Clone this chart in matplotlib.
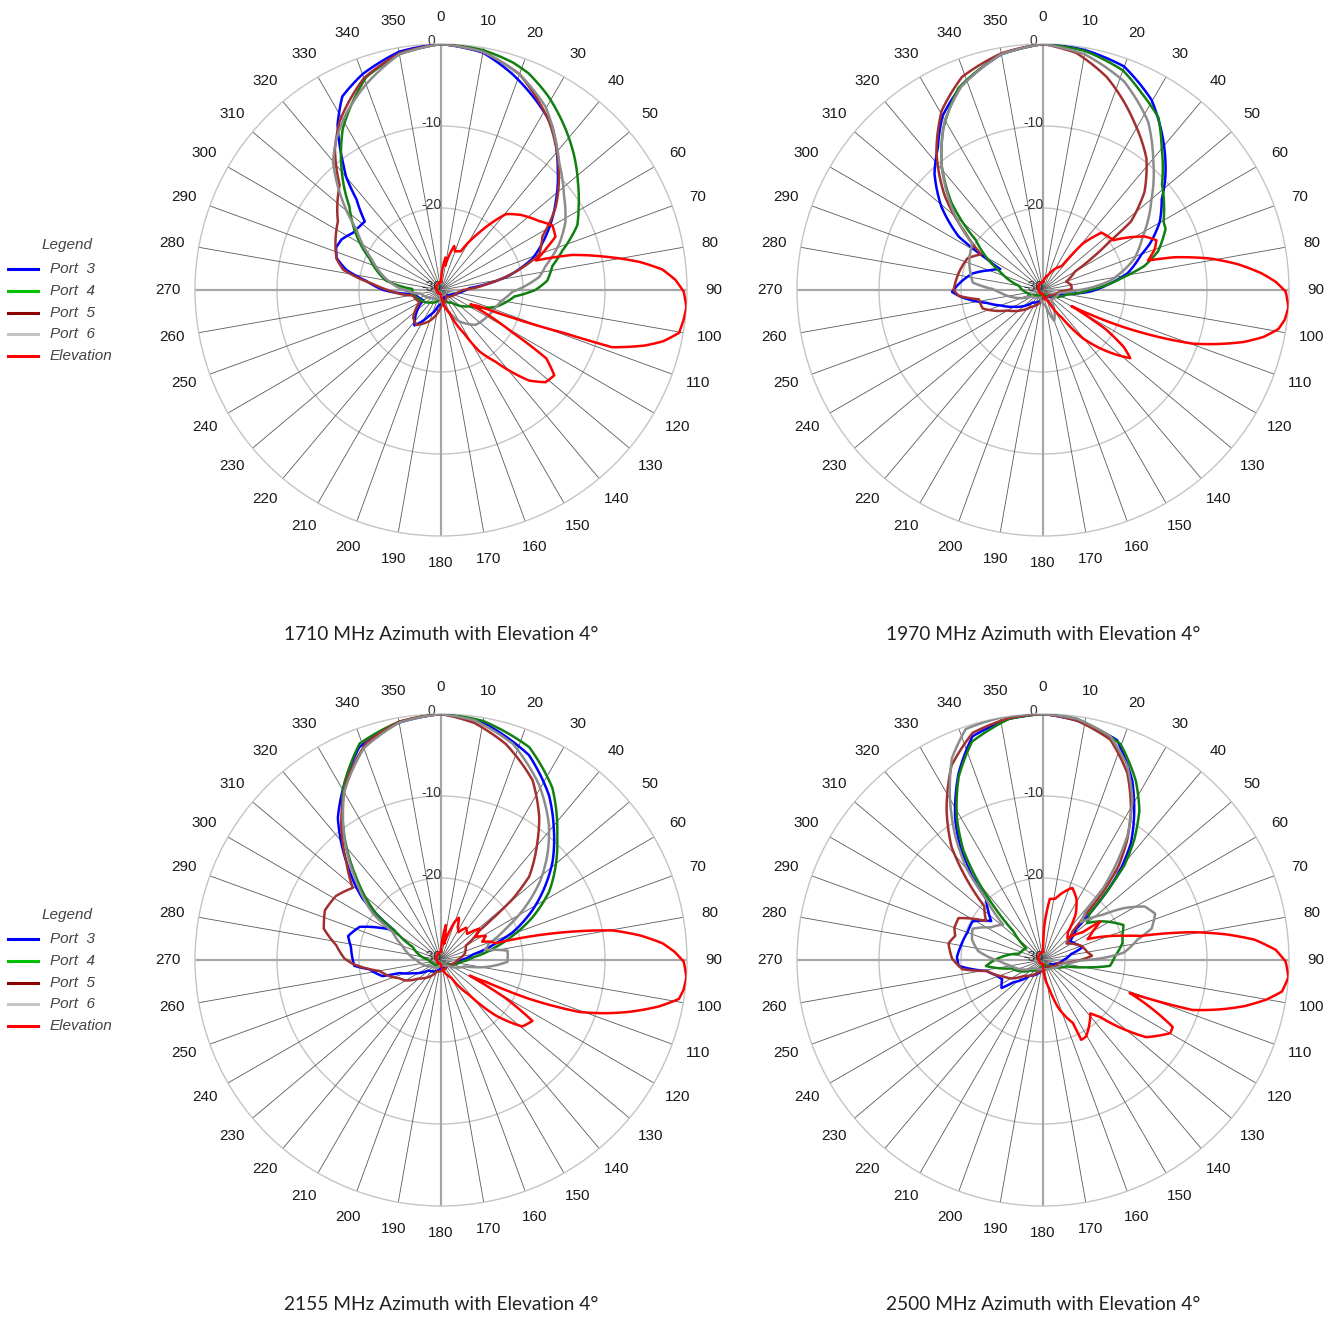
import numpy as np
import matplotlib.pyplot as plt
from matplotlib.lines import Line2D

plt.rcParams['font.family'] = ['Liberation Sans', 'DejaVu Sans']

# ---- data (angle in degrees, level in dB) ----
freqs = ['1710', '1970', '2155', '2500']
series_names = ['Port  3', 'Port  4', 'Port  5', 'Port  6', 'Elevation']

# 1710 MHz
p1710_port3_ang = [0, 10, 18, 34, 44, 52, 63, 71, 78, 86, 95, 110, 130, 160, 190, 205, 217, 228, 240, 255, 263, 270, 277, 282, 287, 292, 297, 303, 308, 312, 317, 320, 322, 328, 333, 340, 350]
p1710_port3_db = [0, -0.6, -2.2, -5.8, -9.5, -12.2, -15.7, -18.2, -21.5, -26.5, -27.5, -28.5, -29, -29, -28, -26.5, -24.6, -26, -27.5, -27, -26.1, -23, -20.8, -18.2, -16.7, -16.2, -16.4, -17.2, -17.4, -17.5, -14.9, -12, -10.7, -6.2, -3.5, -2.0, -0.5]
p1710_port4_ang = [0, 10, 17.5, 22, 29, 35.8, 44.6, 52, 58.9, 64.6, 72.2, 77.8, 85, 90, 95, 107, 120, 140, 180, 220, 250, 262, 272, 279.7, 293.7, 312.3, 321.2, 328.6, 340.6, 350]
p1710_port4_db = [0, -0.3, -0.9, -1.5, -3, -4.7, -6.9, -8.8, -10.4, -11.6, -14.5, -16.1, -17, -18.5, -21, -23, -26, -28, -29, -28, -27, -26.5, -26.5, -23.2, -20.5, -14.9, -10.6, -7.0, -2.5, -0.8]
p1710_port5_ang = [0, 10, 20, 32.7, 40, 46.3, 54, 62.1, 70.3, 76.9, 82, 90, 100, 140, 180, 200, 215, 225, 240, 259, 270, 275, 281.8, 286.7, 295, 303.6, 316, 323, 329, 340, 350]
p1710_port5_db = [0, -0.5, -2, -5.6, -8, -10.1, -12.7, -16, -17.3, -21, -24, -27.4, -28, -29, -28, -26, -24.8, -25.2, -27, -26.5, -23.5, -21.7, -17.8, -16.7, -15.8, -14.9, -12.2, -8.5, -6, -2.5, -0.7]
p1710_port6_ang = [0, 10, 20, 29.8, 36, 42.8, 52, 61.3, 68.6, 77, 82.4, 91.5, 100, 107, 120, 135, 150, 165, 190, 230, 260, 276.7, 294.3, 305.7, 314, 319.8, 325, 332, 340, 350]
p1710_port6_db = [0, -0.5, -2, -4.3, -6.5, -8.8, -11, -12.7, -14.5, -16.9, -17.9, -21.3, -22.5, -23, -23.5, -24, -25.6, -28, -29, -28.5, -27.5, -24.1, -20.7, -17.3, -12.8, -9.6, -7.7, -5.5, -3.3, -0.8]
p1710_elev_ang = [0, 5, 8, 10, 13.4, 16.7, 20, 27, 33.6, 40.6, 47, 54.8, 59.9, 65, 68, 72.7, 75, 78.6, 82, 84.7, 87.5, 90.4, 94, 97, 100.2, 103, 105.2, 108.5, 109.3, 111.2, 113, 116, 120.7, 123, 127, 131.4, 135.8, 142.7, 148, 152, 160, 180, 270]
p1710_elev_db = [-29, -27, -26, -27, -25.6, -24.4, -25, -24.7, -21.6, -17.8, -16.6, -15.4, -14.3, -14.6, -16, -17.9, -13.5, -9.5, -5.5, -2.9, -1.4, -0.4, 0, -0.2, -0.5, -2.2, -4.2, -8, -14.3, -20.6, -25, -26, -19.9, -14.7, -12.7, -13, -14.6, -19, -21.2, -24, -27, -29.5, -29.5]

# 1970 MHz
p1970_port3_ang = [0, 10, 19.9, 29.7, 38.8, 47.3, 52.7, 59.7, 66.6, 70.3, 78.8, 85, 92, 97, 105, 140, 180, 220, 240, 250, 257, 264.8, 268.8, 276, 283.3, 290, 296, 299, 302.4, 309.3, 317, 323.6, 330, 338.5, 350]
p1970_port3_db = [0, -0.3, -1, -3.3, -6.6, -9.7, -11.8, -13.5, -15.8, -17.3, -19.5, -22, -24.3, -26.4, -28, -29, -29, -28, -25.9, -24.5, -23, -20.1, -18.9, -20, -21.2, -23, -24.2, -22.1, -17.8, -14, -10.6, -8.4, -5.5, -3.1, -0.8]
p1970_port4_ang = [0, 10, 20, 26.4, 33.8, 39.8, 48.4, 60.4, 63.5, 71.4, 76.7, 80.8, 90, 100, 130, 180, 230, 260, 280, 293.2, 306.6, 313.6, 320.7, 328.2, 337.3, 350]
p1970_port4_db = [0, -0.4, -1.5, -3.1, -4.7, -7.4, -10.6, -13.1, -13.3, -15.2, -17.3, -20, -24.3, -27, -29, -29.5, -29, -28, -27, -24.3, -19.8, -14.6, -10.5, -6.9, -3.3, -0.8]
p1970_port5_ang = [0, 8, 16.7, 28.5, 38.2, 46, 52.1, 54, 57, 60, 70, 80, 88, 95, 130, 180, 215, 227.6, 240, 253, 261.7, 266, 270, 281.2, 292.6, 300, 306.5, 313.8, 322.4, 330.5, 339.2, 350]
p1970_port5_db = [0, -0.8, -2.9, -6.7, -9.6, -12.8, -16.4, -20, -23, -25.5, -27, -26.5, -26.5, -28, -29, -29, -27.5, -26.3, -25, -22.3, -22.1, -19.7, -19.1, -19.5, -20, -21.3, -18.2, -13.4, -8.7, -4.9, -2.2, -0.7]
p1970_port6_ang = [0, 10, 21.2, 32, 40, 50.2, 61.8, 71, 82, 92, 100, 140, 160, 170, 200, 240, 265, 271, 276, 290.6, 303.2, 312.3, 321.5, 329.7, 338, 350]
p1970_port6_db = [0, -0.8, -2.7, -5.8, -9.1, -12.8, -16.2, -18.2, -21.7, -26.4, -28, -28.5, -26, -28, -29, -28.5, -25, -23.9, -21.4, -20.4, -19.7, -14.9, -10.1, -6.2, -3.3, -0.8]
p1970_elev_ang = [0, 20, 30, 38, 40.5, 45.6, 54.7, 62.2, 66.3, 70, 74.3, 76, 79.3, 82.5, 85.6, 88, 90.4, 94, 97, 99.4, 102, 104.5, 107, 109.7, 113.4, 117.4, 119.5, 122, 125.3, 128, 133.8, 140.5, 145.7, 155, 180, 270]
p1970_elev_db = [-29, -28, -27, -26.3, -22.6, -20, -19.5, -16, -14.9, -15.5, -16.7, -13.5, -9.3, -6, -3.3, -1.6, -0.4, 0, -0.3, -0.9, -2.5, -4.7, -7.5, -10.6, -17, -23.6, -26, -21, -17.9, -16.5, -19.2, -22.4, -25.9, -28.5, -29.5, -29.5]

# 2155 MHz
p2155_port3_ang = [0, 10, 23.2, 33.3, 40.7, 48.7, 54.1, 61.4, 68.8, 73, 80, 90, 120, 180, 230, 245, 252.6, 254.6, 262.6, 266.2, 278.3, 284.5, 292.2, 297.6, 302.4, 308, 316, 324, 339, 350]
p2155_port3_db = [0, -0.6, -2.8, -6, -8.9, -11.9, -14.2, -17.3, -20.6, -23, -26, -27.5, -29, -29, -28, -26.2, -24.7, -22.6, -21.2, -19.4, -18.9, -18.3, -19.3, -21.5, -23.3, -17.9, -13.4, -8.6, -2.2, -0.6]
p2155_port4_ang = [0, 10, 22.5, 32.9, 43.2, 50.6, 57.7, 65, 71.4, 76.6, 85, 95, 120, 180, 240, 270, 294.7, 301.8, 305.5, 314.4, 322.1, 330.3, 339.4, 350]
p2155_port4_db = [0, -0.4, -1.9, -5, -9.3, -11.9, -14.4, -17.7, -20.8, -23.1, -26, -27.5, -29, -29.5, -29, -28.5, -26.2, -23.6, -20.3, -15.5, -10.8, -5.9, -1.8, -0.5]
p2155_port5_ang = [0, 8, 16.7, 27, 34.6, 39.6, 46.6, 49.6, 51, 52.5, 60, 75, 90, 130, 200, 230, 240, 246, 252, 259.8, 267.6, 271, 278, 285, 293.2, 301.4, 309.3, 316, 323.6, 332.2, 341, 350]
p2155_port5_db = [0, -0.8, -2.5, -5.4, -8.9, -11.6, -15.2, -18.5, -21.4, -24, -26.5, -27, -28, -29, -28.5, -26.5, -25, -24.5, -23.5, -22.4, -19.2, -18.2, -17.1, -15.2, -14.6, -15, -16.1, -13.4, -9.5, -5.3, -2, -0.5]
p2155_port6_ang = [0, 8, 18.3, 29.2, 38.6, 45.2, 51.4, 57.7, 64.1, 71, 77, 82, 91.6, 99, 105, 130, 180, 240, 270, 290, 300, 304.2, 313.1, 321.3, 330.2, 340, 350]
p2155_port6_db = [0, -0.5, -2.2, -5.5, -8.9, -11.7, -14.5, -17.8, -21.2, -23.8, -24.5, -21.8, -21.9, -24.5, -27, -29, -29.5, -28.5, -27, -25, -23.2, -20, -15.8, -11.2, -6.3, -2.5, -0.6]
p2155_elev_ang = [0, 5, 8, 11, 16, 20, 23, 27, 32, 38, 45, 50.5, 56, 61.7, 66, 70, 73, 76.2, 80.2, 83, 85.7, 88, 90.4, 94, 97, 99.3, 102, 105.4, 108, 110.6, 113.8, 116, 118.5, 120.5, 123.7, 129.3, 135.4, 141, 150, 180, 270]
p2155_elev_db = [-29, -27, -25.7, -28, -26.5, -25, -24.4, -25.5, -26, -25, -25.5, -24, -25, -23.8, -24.5, -23.5, -23, -16.8, -8.8, -5.5, -2.9, -1.5, -0.4, 0, -0.2, -0.6, -2.8, -6.2, -9, -12, -18.3, -24, -26, -21, -16.6, -17.2, -20.5, -24.5, -27.5, -29.5, -29.5]

# 2500 MHz
p2500_port3_ang = [0, 8, 18.6, 26.5, 32.6, 37, 40.6, 43, 45.2, 47, 55, 65, 72, 78, 90, 120, 180, 220, 233, 236, 245, 252, 259, 266, 272, 279, 290.2, 298.8, 306.9, 312, 317, 319.7, 323.8, 328.3, 335.7, 342.5, 352]
p2500_port3_db = [0, -0.5, -1.7, -5.6, -9.4, -12.2, -15.5, -18.6, -22, -24.5, -26, -25.5, -24.9, -26.5, -27.5, -29, -29, -27.5, -25.5, -23.9, -24.5, -24, -23, -19.7, -19.5, -19.8, -20.2, -20.2, -22.1, -21, -19.8, -16.7, -12.9, -9.6, -5, -1.4, -0.3]
p2500_port4_ang = [0, 8, 19.7, 27.4, 32.8, 37.2, 40.7, 43, 45, 50, 57.2, 66.5, 72, 78, 87, 95, 99, 105, 130, 180, 230, 255, 264, 272, 285, 305, 314, 317.5, 321, 324, 328.8, 335.3, 342, 352]
p2500_port4_db = [0, -0.3, -2, -5.4, -8.3, -11.6, -14.8, -18.6, -22, -23, -21.3, -19.3, -19.8, -20.1, -21.2, -21.8, -24.3, -27, -29, -29.5, -28, -26, -23, -24.5, -27, -27.5, -25, -21.1, -16.9, -13.5, -9.7, -5.4, -2, -0.3]
p2500_port5_ang = [0, 8, 17, 24.3, 30.4, 35, 38.8, 41.4, 43, 46, 55, 70, 80, 85, 92, 100, 140, 200, 230, 240, 247, 259, 263.5, 271, 280, 285.4, 290, 296.4, 304.4, 308, 312.5, 317, 321, 327.2, 334.8, 342.8, 352]
p2500_port5_db = [0, -0.5, -1.9, -5, -8.8, -12.1, -15.3, -18.9, -22.3, -25, -26.5, -25, -24.5, -24, -26, -28, -29, -28.5, -27, -25.5, -24.8, -23, -20.1, -18.9, -18.3, -18.9, -18.5, -18.5, -21.6, -21, -20.3, -16.1, -12.3, -8.3, -3.8, -1, -0.2]
p2500_port6_ang = [0, 8, 16.7, 23.5, 29.1, 34.2, 37.1, 39.9, 40.8, 45, 53, 57.3, 62.2, 67.6, 73.8, 77.8, 84.8, 88, 91, 100, 130, 180, 230, 260, 268, 278, 286, 294, 302, 311.6, 317, 320, 324.7, 330, 335.7, 341.5, 350]
p2500_port6_db = [0, -0.3, -1.5, -4.2, -7.6, -11.7, -15, -18.5, -22, -23.5, -20.8, -18.3, -16, -15.2, -16.2, -18.2, -20.1, -22.6, -25.6, -27.5, -28.5, -29, -28.5, -26, -24.8, -22, -21, -20.6, -22.5, -23.5, -19.8, -15.6, -11.5, -7.3, -3, -0.3, 0]
p2500_elev_ang = [0, 2, 6.4, 11.2, 16, 22.1, 28.7, 35.3, 42, 48, 55, 56, 60, 65, 70, 73.7, 76.2, 79.5, 82, 84.5, 87.5, 90.4, 94, 97.5, 100, 102.9, 105.5, 108.5, 110.8, 117.3, 119.9, 126.8, 135, 138.4, 150.5, 154.4, 154.6, 161.5, 168, 175, 180, 270]
p2500_elev_db = [-29, -26, -22.5, -22.4, -21.5, -20.5, -21.5, -23.1, -25.5, -26, -24.1, -21.6, -23, -24, -21.5, -19.5, -17.7, -11.4, -7.5, -4.1, -1.6, -0.4, 0, -0.6, -2.3, -4.8, -7.5, -10.8, -18.7, -12.2, -12.1, -14.3, -20.2, -21.3, -19.3, -19.2, -21.5, -23.6, -26.5, -28, -29.5, -29.5]

plots = {
    '1710': [(p1710_port3_ang, p1710_port3_db), (p1710_port4_ang, p1710_port4_db), (p1710_port5_ang, p1710_port5_db), (p1710_port6_ang, p1710_port6_db), (p1710_elev_ang, p1710_elev_db)],
    '1970': [(p1970_port3_ang, p1970_port3_db), (p1970_port4_ang, p1970_port4_db), (p1970_port5_ang, p1970_port5_db), (p1970_port6_ang, p1970_port6_db), (p1970_elev_ang, p1970_elev_db)],
    '2155': [(p2155_port3_ang, p2155_port3_db), (p2155_port4_ang, p2155_port4_db), (p2155_port5_ang, p2155_port5_db), (p2155_port6_ang, p2155_port6_db), (p2155_elev_ang, p2155_elev_db)],
    '2500': [(p2500_port3_ang, p2500_port3_db), (p2500_port4_ang, p2500_port4_db), (p2500_port5_ang, p2500_port5_db), (p2500_port6_ang, p2500_port6_db), (p2500_elev_ang, p2500_elev_db)],
}

curve_colors = ['#0000ff', '#118011', '#a23030', '#8c8c8c', '#ff0000']
legend_colors = ['#0000ff', '#00c000', '#8b0000', '#c4c4c4', '#ff0000']

W, H = 1342, 1318
R = 246
centers = [(441, 290), (1043, 290), (441, 960), (1043, 960)]
title_y = [635, 635, 1305, 1305]

fig = plt.figure(figsize=(W / 100, H / 100), dpi=100)

full = np.linspace(0, 2 * np.pi, 721)
for i, f in enumerate(freqs):
    cx, cy = centers[i]
    ax = fig.add_axes([(cx - R) / W, 1 - (cy + R) / H, 2 * R / W, 2 * R / H], projection='polar')
    ax.set_theta_zero_location('N')
    ax.set_theta_direction(-1)
    ax.set_ylim(-30, 0)
    ax.grid(False)
    ax.set_xticks([])
    ax.set_yticks([])
    ax.spines['polar'].set_color('#c4c4c4')
    ax.spines['polar'].set_linewidth(1.0)

    # rings
    for r in (-20, -10):
        ax.plot(full, np.full_like(full, r), color='#c4c4c4', lw=1.0, zorder=1)
    # spokes + angle labels
    for a in range(0, 360, 10):
        t = np.deg2rad(a)
        if a % 90 == 0:
            ax.plot([t, t], [-30, 0], color='#a6a6a6', lw=1.6, zorder=1)
        else:
            ax.plot([t, t], [-30, 0], color='#5a5a5a', lw=0.6, zorder=1)
        ax.text(t, 3.3, str(a), ha='center', va='center', fontsize=11, color='#1a1a1a', clip_on=False)

    # radial labels
    for r, lab in [(0, '0'), (-10, '-10'), (-20, '-20'), (-30, '-30')]:
        ax.annotate(lab, xy=(0, r), xytext=(-7, 2), textcoords='offset points',
                    ha='center', va='center', fontsize=10, color='#333333', zorder=2)

    for k, (ang, db) in enumerate(plots[f]):
        th = np.deg2rad(list(ang) + [360])
        rr = list(db) + [db[0]]
        ln, = ax.plot(th, rr, color=curve_colors[k], lw=1.8, zorder=3 + k)
        # let the polar transform draw each segment as a spiral arc
        ln.get_path()._interpolation_steps = 24

    fig.text(cx / W, 1 - title_y[i] / H, f + ' MHz Azimuth with Elevation 4°', ha='center', va='center',
             fontsize=13.8, color='#222222', family=['Lato', 'DejaVu Sans'])

# legends beside the left column
for y0 in (245, 915):
    fig.text(67 / W, 1 - y0 / H, 'Legend', ha='center', va='center', fontsize=11, style='italic', color='#444444')
    for k, name in enumerate(series_names):
        y = y0 + 24 + k * 21.8
        fig.add_artist(Line2D([8 / W, 38 / W], [1 - y / H, 1 - y / H], color=legend_colors[k], lw=2.2,
                              transform=fig.transFigure))
        fig.text(50 / W, 1 - y / H, name, ha='left', va='center', fontsize=11, style='italic', color='#444444')

fig.savefig('out.png', dpi=100, facecolor='white')
